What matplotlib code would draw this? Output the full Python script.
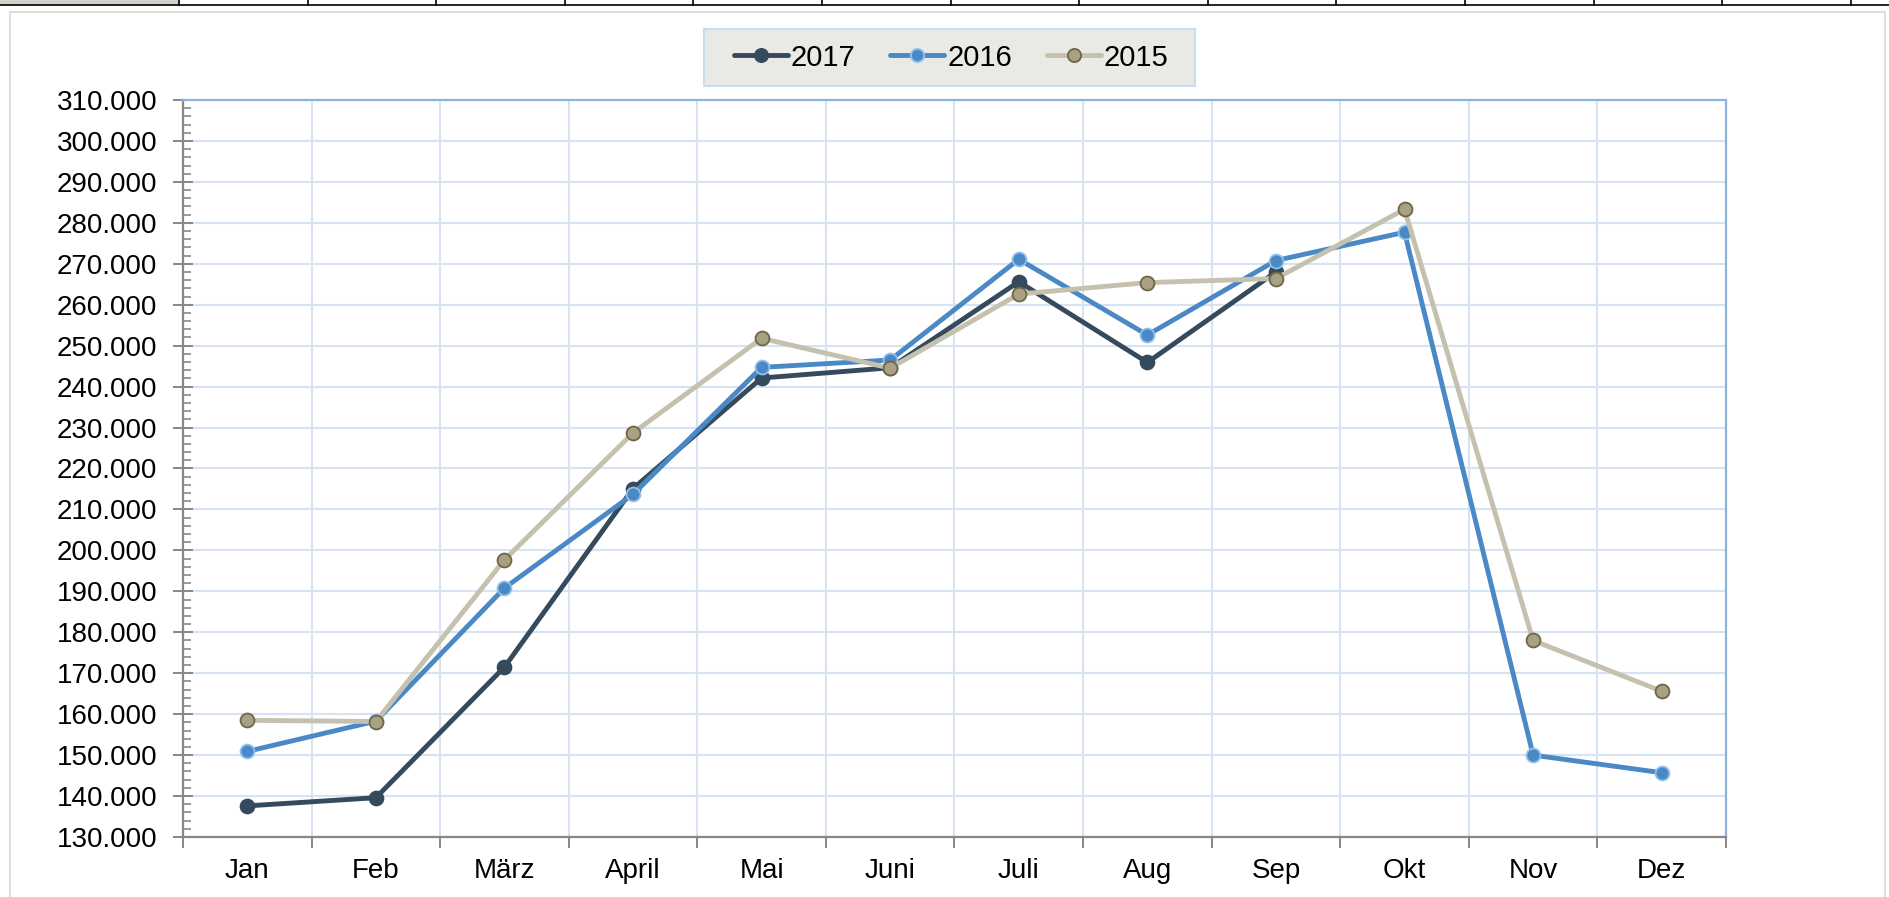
import numpy as np
import matplotlib
matplotlib.use("Agg")
import matplotlib.pyplot as plt
from matplotlib.patches import Rectangle
from matplotlib.lines import Line2D
from matplotlib.ticker import MultipleLocator, FuncFormatter, FixedLocator

plt.rcParams['font.family'] = ['Liberation Sans', 'DejaVu Sans']

# Monatswerte
months = ["Jan", "Feb", "März", "April", "Mai", "Juni", "Juli", "Aug", "Sep", "Okt", "Nov", "Dez"]
y2017 = [137600, 139600, 171500, 215100, 242100, 244600, 265600, 245900, 268000, np.nan, np.nan, np.nan]
y2016 = [150900, 158300, 190800, 213700, 244700, 246500, 271100, 252600, 270800, 277700, 150000, 145700]
y2015 = [158500, 158200, 197700, 228700, 251800, 244500, 262600, 265400, 266400, 283300, 178000, 165600]

series = [
    ("2017", y2017, "#354a5c", "#354a5c", "#354a5c"),
    ("2016", y2016, "#4a88c6", "#4a88c6", "#92c0ea"),
    ("2015", y2015, "#c6c1ae", "#a9a183", "#6f6646"),
]

W, H = 1889, 897
fig = plt.figure(figsize=(W / 100, H / 100), dpi=100)


def px_rect(x0, y0, x1, y1, **kw):
    # rectangle in pixel coords (origin top left)
    fig.add_artist(Rectangle((x0 / W, 1 - y1 / H), (x1 - x0) / W, (y1 - y0) / H,
                             transform=fig.transFigure, **kw))


def px_line(xs, ys, **kw):
    fig.add_artist(Line2D([x / W for x in xs], [1 - y / H for y in ys],
                          transform=fig.transFigure, **kw))


# spreadsheet row on top + chart frame
px_rect(0, -2, 179, 5, facecolor="#d6d2c9", edgecolor="none")
px_line([0, W], [5.5, 5.5], color="black", lw=1.2)
for k in range(15):
    xd = 179 + 128.6 * k
    if xd < W:
        px_line([xd, xd], [0, 5.5], color="black", lw=1.2)
px_rect(10, 12, 1885, 905, facecolor="none", edgecolor="#dcd8d0", lw=1.2)

# legend box
px_rect(704, 29, 1195, 86, facecolor="#e9e9e5", edgecolor="#c8ddf0", lw=1.5)

left, right, top, bottom = 183, 1726, 100, 837
ax = fig.add_axes([left / W, 1 - bottom / H, (right - left) / W, (bottom - top) / H])

x = np.arange(len(months))
for name, vals, lc, mfc, mec in series:
    ax.plot(x, vals, color=lc, lw=3.5, marker="o", markersize=10,
            markerfacecolor=mfc, markeredgecolor=mec, markeredgewidth=1.3,
            label=name, solid_capstyle="round", zorder=3)

ax.set_xlim(-0.5, len(months) - 0.5)
ax.set_ylim(130000, 310000)

ax.yaxis.set_major_locator(MultipleLocator(10000))
ax.yaxis.set_minor_locator(MultipleLocator(2000))
ax.yaxis.set_major_formatter(FuncFormatter(lambda v, p: f"{v:,.0f}".replace(",", ".")))

ax.xaxis.set_major_locator(FixedLocator(np.arange(-0.5, len(months), 1.0)))
ax.xaxis.set_minor_locator(FixedLocator(x))
ax.xaxis.set_major_formatter(FuncFormatter(lambda v, p: ""))
ax.set_xticks(x, months, minor=True)

ax.grid(True, which="major", color="#d5e3f2", lw=1.5, zorder=0)
ax.set_axisbelow(True)

for s in ("left", "bottom"):
    ax.spines[s].set_color("#878787")
    ax.spines[s].set_linewidth(1.6)
for s in ("top", "right"):
    ax.spines[s].set_color("#8cb4dc")
    ax.spines[s].set_linewidth(1.6)

ax.tick_params(axis="y", which="major", direction="inout", length=15, width=1.4,
               color="#878787", labelsize=20, pad=11)
ax.tick_params(axis="y", which="minor", direction="in", length=6, width=1.2, color="#878787")
ax.tick_params(axis="x", which="major", direction="out", length=8, width=1.4, color="#878787")
ax.tick_params(axis="x", which="minor", length=0, labelsize=20, pad=15)

fig.legend(loc="center", bbox_to_anchor=(951 / W, 1 - 57.5 / H), ncol=3,
           fontsize=21, frameon=False, handlelength=1.85, handletextpad=0.1,
           columnspacing=1.2, markerscale=0.95)

fig.savefig("out.png", dpi=100)
